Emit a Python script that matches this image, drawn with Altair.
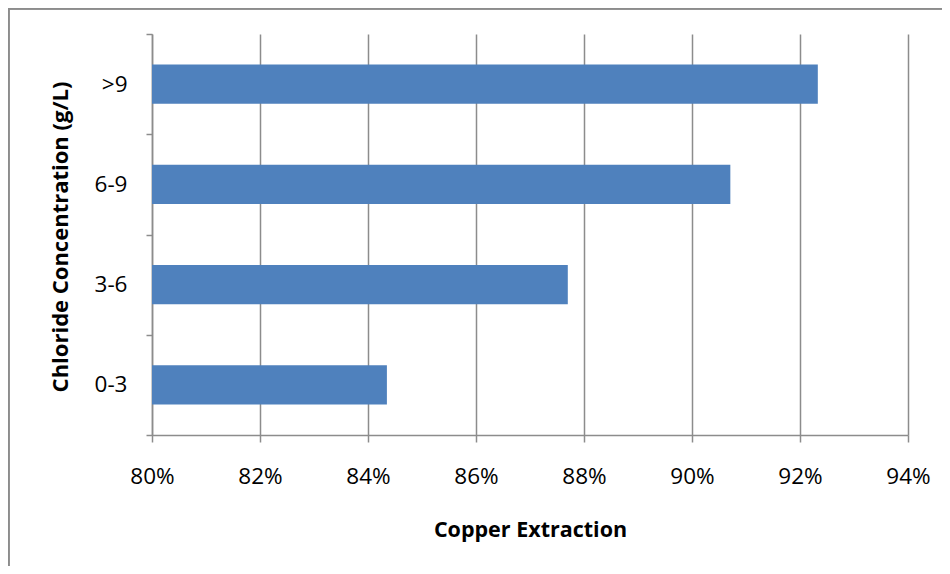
import altair as alt
import pandas as pd

categories = [">9", "6-9", "3-6", "0-3"]
extraction = [0.9233, 0.9071, 0.8770, 0.8435]
x_ticks = [0.80, 0.82, 0.84, 0.86, 0.88, 0.90, 0.92, 0.94]

df = pd.DataFrame({"cat": categories, "val": extraction, "base": [0.80] * len(categories)})

W, H = 756, 401
PAD = {"left": 144, "top": 26, "right": 34, "bottom": 131}
FONT = "Open Sans"
GRAY = "#8c8c8c"

bars = alt.Chart(df).mark_bar(
    color="#4f81bd", height=alt.RelativeBandSize(0.39)
).encode(
    x=alt.X("val:Q",
            scale=alt.Scale(domain=[0.80, 0.94], nice=False, zero=False),
            axis=alt.Axis(values=x_ticks, format=".0%", title="Copper Extraction",
                          grid=True, gridColor=GRAY, gridWidth=1.5,
                          domainColor=GRAY, domainWidth=1.5,
                          tickColor=GRAY, tickWidth=1.5, tickSize=7,
                          labelFont=FONT, labelFontSize=22.5, labelColor="#000000",
                          labelPadding=23, labelFlush=False,
                          titleFont=FONT, titleFontSize=21.5, titleFontWeight="bold",
                          titleColor="#000000", titleBaseline="alphabetic",
                          titleY=101)),
    x2="base:Q",
    y=alt.Y("cat:N", sort=categories,
            scale=alt.Scale(paddingInner=0, paddingOuter=0),
            axis=alt.Axis(title="Chloride Concentration (g/L)", tickBand="extent",
                          grid=False, domainColor=GRAY, domainWidth=1.5,
                          tickColor=GRAY, tickWidth=1.5, tickSize=6,
                          labelFont=FONT, labelFontSize=22.5, labelColor="#000000",
                          labelPadding=19,
                          titleFont=FONT, titleFontSize=22, titleFontWeight="bold",
                          titleColor="#000000", titleBaseline="alphabetic",
                          titleX=-85, titleY=202.5)),
)

frame = alt.Chart(df).mark_rect(
    fill=None, stroke="#8c8c8c", strokeWidth=1.5
).encode(
    x=alt.value(-143.25), x2=alt.value(W + 60),
    y=alt.value(-25.25), y2=alt.value(H + 200),
)

chart = alt.layer(frame, bars).properties(
    width=W, height=H,
    padding=PAD,
    autosize=alt.AutoSizeParams(type="none"),
    background="white",
).configure_view(stroke=None)

chart.save("out.html", embed_options={"renderer": "svg", "actions": False})
